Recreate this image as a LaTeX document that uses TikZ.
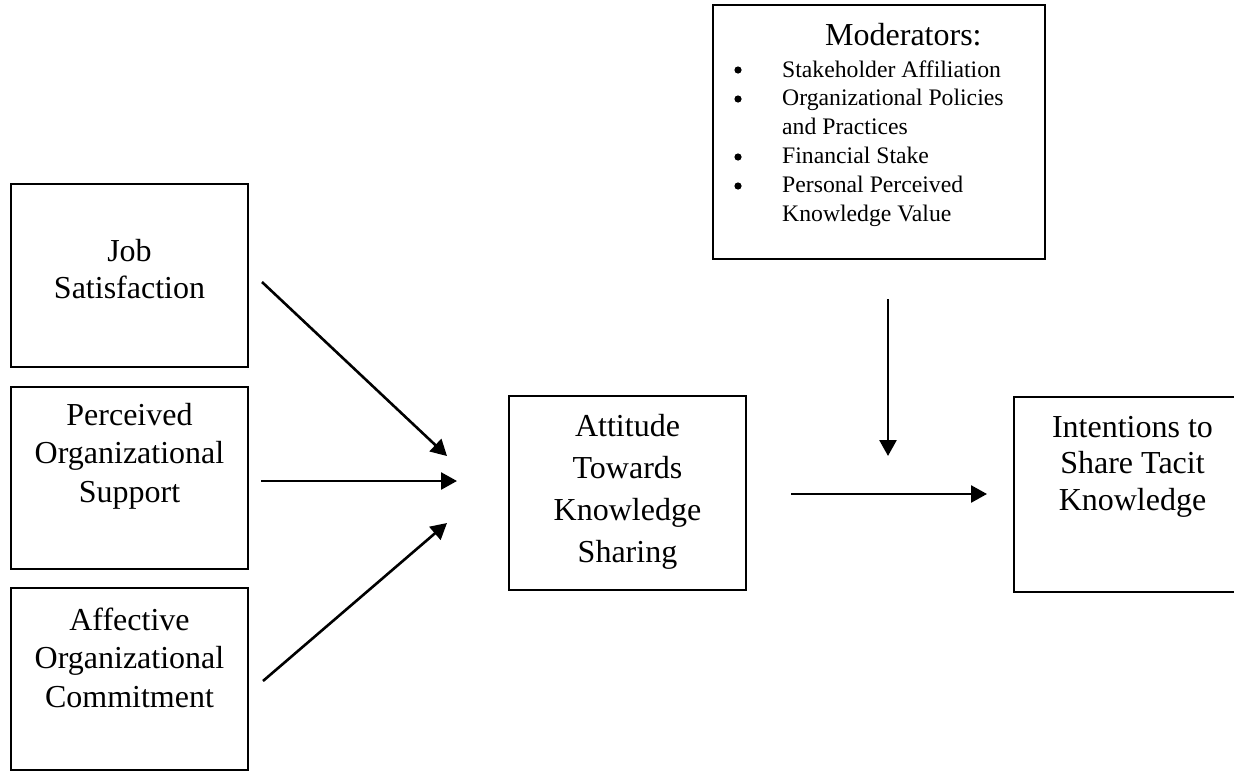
\documentclass[tikz,border=0pt]{standalone}
\usepackage{fontspec}
\setmainfont{Liberation Serif}
\usetikzlibrary{arrows.meta}
\newcommand{\btext}[3]{\parbox[t]{#1pt}{\centering\fontsize{32}{#2}\selectfont #3}}
\tikzset{
  bx/.style={draw, line width=2pt, inner sep=0pt},
  txt/.style={anchor=base, inner sep=0pt},
  arr/.style={line width=2.6pt, -{Triangle[length=16pt,width=17pt]}},
}
\begin{document}
\begin{tikzpicture}[x=1pt,y=-1pt]
\useasboundingbox (0,0) rectangle (1234,771);
\clip (0,0) rectangle (1234,771);
% boxes
\node[bx, minimum width=237pt, minimum height=183pt] (js)  at (129.5,275.5) {};
\node[bx, minimum width=237pt, minimum height=182pt] (pos) at (129.5,478) {};
\node[bx, minimum width=237pt, minimum height=182pt] (aoc) at (129.5,679) {};
\node[bx, minimum width=237pt, minimum height=194pt] (att) at (627.5,493) {};
\node[bx, minimum width=237pt, minimum height=195pt] (ist) at (1132.5,494.5) {};
\node[bx, minimum width=332pt, minimum height=254pt] (mod) at (879,132) {};
% box texts
\node[txt] (tjs)  at (129.5,261) {\btext{230}{37}{Job\\Satisfaction}};
\node[txt] (tpos) at (129.5,425) {\btext{230}{38.5}{Perceived\\Organizational\\Support}};
\node[txt] (taoc) at (129.5,630) {\btext{230}{38.5}{Affective\\Organizational\\Commitment}};
\node[txt] (tatt) at (627.5,436) {\btext{230}{42}{Attitude\\Towards\\Knowledge\\Sharing}};
\node[txt] (tist) at (1132.5,437) {\btext{230}{36.5}{Intentions to\\Share Tacit\\Knowledge}};
% moderators
\node[anchor=base west, inner sep=0pt, font=\fontsize{32}{38}\selectfont] (modtitle) at (825,45) {Moderators:};
\node[anchor=base west, inner sep=0pt] (modlist) at (782,77)
  {\parbox[t]{260pt}{\raggedright\fontsize{23.7}{28.8}\selectfont Stakeholder Affiliation\\Organizational Policies\\and Practices\\Financial Stake\\Personal Perceived\\Knowledge Value}};
\foreach \yy in {70,99,157,186} \fill (738,\yy) circle (3.6pt);
% arrows
\coordinate (a1s) at (262,282);  \coordinate (a1e) at (447,456);
\coordinate (a2s) at (261,481);  \coordinate (a2e) at (457,481);
\coordinate (a3s) at (263,681);  \coordinate (a3e) at (447,523);
\coordinate (a4s) at (888,299);  \coordinate (a4e) at (888,456);
\coordinate (a5s) at (791,494);  \coordinate (a5e) at (987,494);
\draw[arr] (a1s) -- (a1e);
\draw[arr] (a2s) -- (a2e);
\draw[arr] (a3s) -- (a3e);
\draw[arr] (a4s) -- (a4e);
\draw[arr] (a5s) -- (a5e);
\end{tikzpicture}
\end{document}
